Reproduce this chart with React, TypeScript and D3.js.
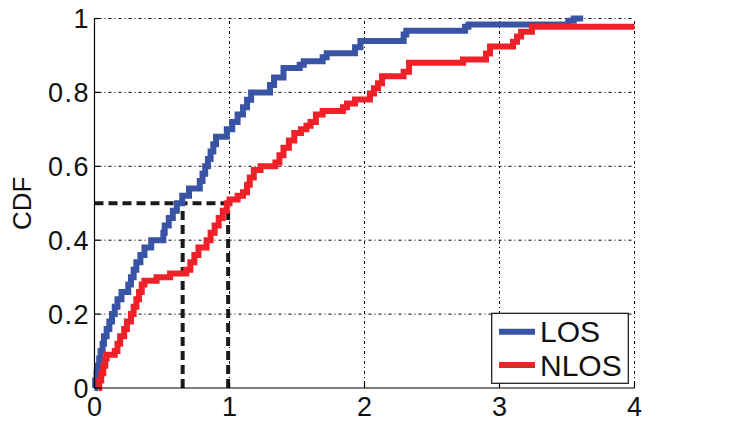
import React, { useEffect, useRef } from 'react';
import * as d3 from 'd3';

const losX = [0, 0.005, 0.015, 0.025, 0.035, 0.045, 0.06, 0.07, 0.09, 0.11, 0.13, 0.15, 0.17, 0.2, 0.25, 0.27, 0.29, 0.31, 0.34, 0.37, 0.42, 0.51, 0.52, 0.55, 0.58, 0.61, 0.65, 0.7, 0.78, 0.8, 0.82, 0.84, 0.86, 0.88, 0.9, 0.98, 1.02, 1.06, 1.1, 1.13, 1.16, 1.3, 1.33, 1.4, 1.52, 1.55, 1.69, 1.72, 1.93, 1.97, 2.29, 2.31, 2.745, 2.77, 3.51, 3.55, 3.62];
const losY = [0, 0.02, 0.04, 0.06, 0.08, 0.1, 0.12, 0.14, 0.16, 0.18, 0.2, 0.22, 0.24, 0.26, 0.28, 0.3, 0.32, 0.34, 0.36, 0.38, 0.4, 0.42, 0.44, 0.46, 0.48, 0.5, 0.52, 0.54, 0.56, 0.58, 0.6, 0.62, 0.64, 0.66, 0.68, 0.7, 0.72, 0.74, 0.76, 0.78, 0.8, 0.82, 0.84, 0.866, 0.875, 0.884, 0.895, 0.906, 0.922, 0.939, 0.957, 0.967, 0.978, 0.984, 0.994, 1.0, 1.0];

const nlosX = [0.03, 0.035, 0.05, 0.065, 0.08, 0.09, 0.15, 0.17, 0.19, 0.22, 0.24, 0.27, 0.29, 0.31, 0.33, 0.35, 0.37, 0.46, 0.56, 0.68, 0.71, 0.74, 0.77, 0.83, 0.86, 0.89, 0.92, 0.95, 0.98, 1.0, 1.06, 1.1, 1.13, 1.15, 1.18, 1.23, 1.34, 1.37, 1.4, 1.44, 1.48, 1.53, 1.57, 1.6, 1.64, 1.69, 1.84, 1.87, 1.93, 2.04, 2.07, 2.1, 2.13, 2.29, 2.33, 2.73, 2.9, 2.93, 3.1, 3.13, 3.16, 3.24, 4.0];
const nlosY = [0, 0.02, 0.04, 0.06, 0.08, 0.09, 0.1, 0.12, 0.14, 0.16, 0.18, 0.2, 0.22, 0.24, 0.26, 0.28, 0.29, 0.3, 0.31, 0.32, 0.34, 0.36, 0.38, 0.4, 0.42, 0.44, 0.46, 0.48, 0.5, 0.51, 0.52, 0.53, 0.55, 0.57, 0.59, 0.6, 0.61, 0.63, 0.65, 0.67, 0.69, 0.7, 0.71, 0.72, 0.74, 0.75, 0.76, 0.77, 0.781, 0.797, 0.811, 0.825, 0.844, 0.856, 0.88, 0.889, 0.905, 0.924, 0.937, 0.951, 0.964, 0.978, 0.978];

const xTicks = [0, 1, 2, 3, 4];
const yTicks = [0, 0.2, 0.4, 0.6, 0.8, 1];
const yTickLabels = ['0', '0.2', '0.4', '0.6', '0.8', '1'];
const medianLevel = 0.5;
const medians = [0.653, 0.99];
const seriesNames = ['LOS', 'NLOS'];
const seriesColors = ['#3953a5', '#ee2128'];

const App = () => {
  const ref = useRef(null);

  useEffect(() => {
    if (!ref.current) return;
    const svg = d3.select(ref.current);
    svg.selectAll('*').remove();

    const left = 94.5, right = 634.5, top = 18.5, bottom = 388;
    const x = d3.scaleLinear().domain([0, 4]).range([left, right]);
    const y = d3.scaleLinear().domain([0, 1]).range([bottom, top]);
    const font = '"Liberation Sans", Arial, Helvetica, sans-serif';

    // grid (dash-dot)
    const grid = svg.append('g').attr('stroke', '#000').attr('stroke-width', 1)
      .attr('stroke-dasharray', '1,3,3,3').attr('fill', 'none');
    xTicks.filter(t => t > 0).forEach(t => {
      grid.append('line').attr('x1', x(t)).attr('x2', x(t)).attr('y1', bottom).attr('y2', top);
    });
    yTicks.filter(t => t > 0).forEach(t => {
      grid.append('line').attr('x1', left).attr('x2', right).attr('y1', y(t)).attr('y2', y(t));
    });

    // median guide lines
    const guide = svg.append('g').attr('stroke', '#1a1a1a').attr('stroke-width', 4)
      .attr('stroke-dasharray', '9,5').attr('fill', 'none');
    guide.append('line').attr('x1', x(0)).attr('x2', x(medians[1])).attr('y1', y(medianLevel)).attr('y2', y(medianLevel));
    medians.forEach(m => {
      guide.append('line').attr('x1', x(m)).attr('x2', x(m)).attr('y1', y(0)).attr('y2', y(medianLevel));
    });

    // curves
    const line = d3.line<[number, number]>()
      .x(d => x(d[0])).y(d => y(d[1])).curve(d3.curveStepAfter);
    const series = [
      d3.zip(losX, losY) as [number, number][],
      d3.zip(nlosX, nlosY) as [number, number][],
    ];
    series.forEach((s, i) => {
      svg.append('path').attr('d', line(s)!).attr('fill', 'none')
        .attr('stroke', seriesColors[i]).attr('stroke-width', 6)
        .attr('stroke-linejoin', 'miter');
    });

    // axes
    const ax = svg.append('g').attr('stroke', '#000').attr('stroke-width', 1.2).attr('fill', 'none');
    ax.append('line').attr('x1', left).attr('x2', left).attr('y1', top).attr('y2', bottom);
    ax.append('line').attr('x1', left).attr('x2', right).attr('y1', bottom).attr('y2', bottom);
    xTicks.forEach(t => ax.append('line').attr('x1', x(t)).attr('x2', x(t)).attr('y1', bottom).attr('y2', bottom - 5));
    yTicks.forEach(t => ax.append('line').attr('x1', left).attr('x2', left + 5).attr('y1', y(t)).attr('y2', y(t)));

    svg.append('g').selectAll('text').data(xTicks).enter().append('text')
      .attr('x', d => x(d)).attr('y', 416).attr('text-anchor', 'middle')
      .attr('font-family', font).attr('font-size', 27).attr('fill', '#111')
      .text(d => String(d));
    svg.append('g').selectAll('text').data(yTicks).enter().append('text')
      .attr('x', 90).attr('y', d => y(d) + 9.5).attr('text-anchor', 'end')
      .attr('font-family', font).attr('font-size', 27).attr('fill', '#111')
      .attr('letter-spacing', 1.5)
      .text((d, i) => yTickLabels[i]);

    svg.append('text')
      .attr('transform', `translate(31,${(top + bottom) / 2}) rotate(-90)`)
      .attr('text-anchor', 'middle').attr('font-family', font).attr('font-size', 26).attr('fill', '#111')
      .text('CDF');

    // legend
    const lg = svg.append('g');
    lg.append('rect').attr('x', 491.7).attr('y', 313.3).attr('width', 136.6).attr('height', 70)
      .attr('fill', '#fff').attr('stroke', '#111').attr('stroke-width', 1.2);
    seriesNames.forEach((name, i) => {
      const ly = 331.7 + i * 33.3;
      lg.append('line').attr('x1', 499).attr('x2', 535).attr('y1', ly).attr('y2', ly)
        .attr('stroke', seriesColors[i]).attr('stroke-width', 6);
      lg.append('text').attr('x', 540).attr('y', ly + 10.5)
        .attr('font-family', font).attr('font-size', 30).attr('fill', '#111').text(name);
    });
  }, []);

  return (
    <svg
      ref={ref}
      width={729}
      height={421}
      style={{ position: 'absolute', left: 0, top: 0, background: '#fff' }}
    />
  );
};

export default App;
